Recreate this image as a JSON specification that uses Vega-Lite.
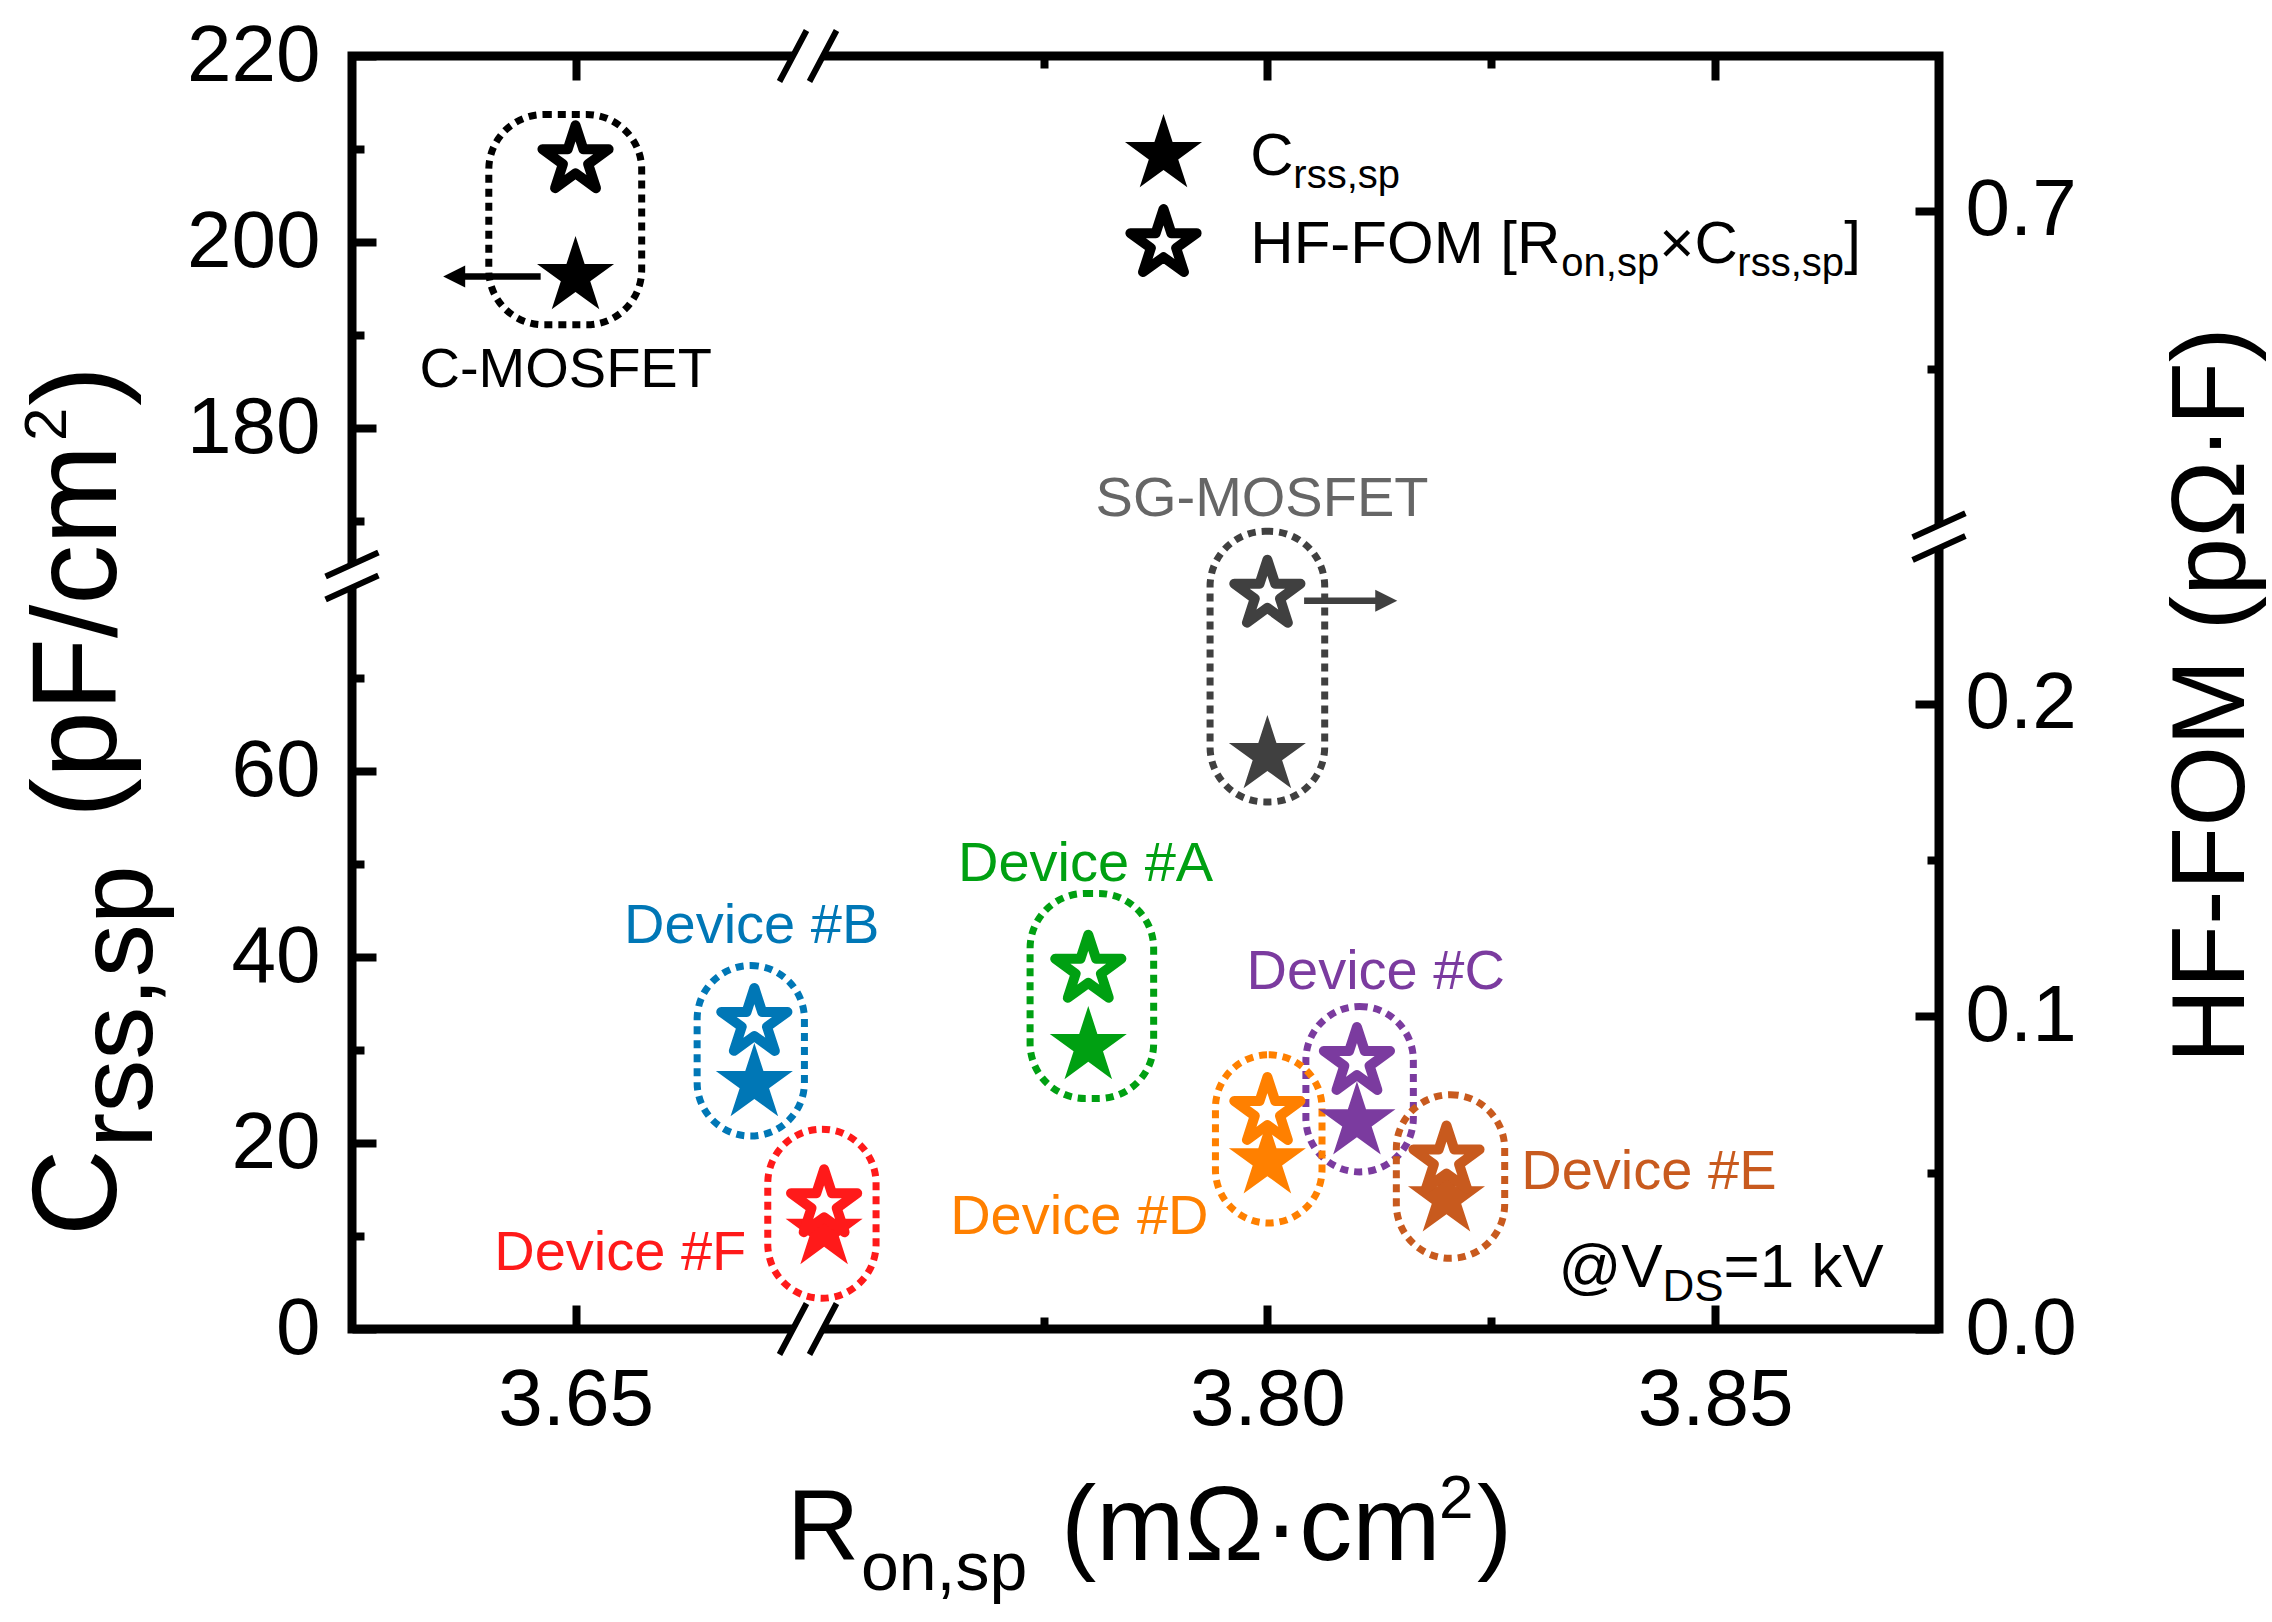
{
  "$schema": "https://vega.github.io/schema/vega-lite/v6.json",
  "width": 1587,
  "height": 1273,
  "autosize": {"type": "none"},
  "padding": {"left": 352, "top": 56, "right": 333, "bottom": 293},
  "background": "white",
  "view": {"stroke": "black", "strokeWidth": 9},
  "config": {
    "font": "Liberation Sans",
    "axis": {"domain": false, "grid": false, "labelFont": "Liberation Sans", "labelFontSize": 80, "labelColor": "black", "tickColor": "black", "tickWidth": 8, "labelFlush": false, "labelOverlap": false, "titleFont": "Liberation Sans", "titleColor": "black"},
    "text": {"font": "Liberation Sans"}
  },
  "data": {"values": [{}]},
  "datasets": {
    "pts": [
      {"dev": "C-MOSFET", "ron": 3.65, "crss": 196.3, "fom": 0.716},
      {"dev": "SG-MOSFET", "ron": 3.80, "crss": 61.7, "fom": 0.235},
      {"dev": "Device #A", "ron": 3.78, "crss": 30.4, "fom": 0.115},
      {"dev": "Device #B", "ron": 3.67, "crss": 26.4, "fom": 0.098},
      {"dev": "Device #C", "ron": 3.81, "crss": 22.3, "fom": 0.0855},
      {"dev": "Device #D", "ron": 3.80, "crss": 18.1, "fom": 0.0695},
      {"dev": "Device #E", "ron": 3.82, "crss": 14.0, "fom": 0.054},
      {"dev": "Device #F", "ron": 3.7505, "crss": 10.5, "fom": 0.040}
    ],
    "groups": [
      {"dev": "C-MOSFET", "x_lo": 3.6403, "x_hi": 3.6574, "c_lo": 191.1, "c_hi": 213.7},
      {"dev": "SG-MOSFET", "x_lo": 3.7936, "x_hi": 3.8064, "c_lo": 56.7, "c_hi": 168.9},
      {"dev": "Device #A", "x_lo": 3.7735, "x_hi": 3.7873, "c_lo": 24.8, "c_hi": 46.85},
      {"dev": "Device #B", "x_lo": 3.6636, "x_hi": 3.6756, "c_lo": 20.75, "c_hi": 39.1},
      {"dev": "Device #C", "x_lo": 3.8043, "x_hi": 3.8163, "c_lo": 16.9, "c_hi": 34.7},
      {"dev": "Device #D", "x_lo": 3.7942, "x_hi": 3.8061, "c_lo": 11.4, "c_hi": 29.5},
      {"dev": "Device #E", "x_lo": 3.8144, "x_hi": 3.8265, "c_lo": 7.6, "c_hi": 25.2},
      {"dev": "Device #F", "x_lo": 3.6715, "x_hi": 3.7563, "c_lo": 3.3, "c_hi": 21.5}
    ],
    "labels": [
      {"dev": "C-MOSFET", "lx": 3.6489, "ly": 184.4},
      {"dev": "SG-MOSFET", "lx": 3.7994, "ly": 170.6},
      {"dev": "Device #A", "lx": 3.7797, "ly": 48.2},
      {"dev": "Device #B", "lx": 3.6697, "ly": 41.5},
      {"dev": "Device #C", "lx": 3.8121, "ly": 36.6},
      {"dev": "Device #D", "lx": 3.7790, "ly": 10.2},
      {"dev": "Device #E", "lx": 3.8426, "ly": 15.1},
      {"dev": "Device #F", "lx": 3.655, "ly": 6.3}
    ]
  },
  "layer": [
    {
      "data": {"name": "groups"},
      "mark": {"type": "rect", "filled": false, "strokeWidth": 7, "strokeDash": [8, 6], "cornerRadius": 55},
      "encoding": {
        "x": {"field": "x_lo", "type": "quantitative",
          "scale": {"domain": [3.625, 3.676, 3.7487, 3.875], "range": [0, 456, 456, 1587], "nice": false, "zero": false},
          "axis": {"orient": "bottom", "title": null, "values": [3.65, 3.8, 3.85], "format": ".2f", "tickSize": -24, "labelPadding": 56}},
        "x2": {"field": "x_hi"},
        "y": {"field": "c_lo", "type": "quantitative",
          "scale": {"domain": [0, 81, 164.1, 220], "range": [1273, 520, 520, 0], "nice": false, "zero": false},
          "axis": {"orient": "left", "title": null, "values": [0, 20, 40, 60, 180, 200, 220], "format": "d", "tickSize": -24, "labelPadding": 56}},
        "y2": {"field": "c_hi"},
        "stroke": {"field": "dev", "type": "nominal", "legend": null,
          "scale": {"domain": ["C-MOSFET", "SG-MOSFET", "Device #A", "Device #B", "Device #C", "Device #D", "Device #E", "Device #F"],
                    "range": ["#000000", "#404040", "#00A012", "#0077B6", "#7B3B9F", "#FF8000", "#C85A1E", "#FF1A1A"]}}
      }
    },
    {
      "data": {"name": "pts"},
      "mark": {"type": "point", "shape": "M0,-1L0.2245,-0.309L0.9511,-0.309L0.3633,0.118L0.5878,0.809L0,0.382L-0.5878,0.809L-0.3633,0.118L-0.9511,-0.309L-0.2245,-0.309Z", "size": 6561, "filled": true, "opacity": 1, "strokeWidth": 0},
      "encoding": {
        "x": {"field": "ron", "type": "quantitative",
          "axis": {"orient": "bottom", "title": null, "values": [3.775, 3.825], "labels": false, "tickSize": -12}},
        "y": {"field": "crss", "type": "quantitative",
          "scale": {"domain": [0, 81, 164.1, 220], "range": [1273, 520, 520, 0], "nice": false, "zero": false},
          "axis": {"orient": "left", "title": null, "values": [10, 30, 50, 70, 170, 190, 210], "labels": false, "tickSize": -12}},
        "fill": {"field": "dev", "type": "nominal", "legend": null,
          "scale": {"domain": ["C-MOSFET", "SG-MOSFET", "Device #A", "Device #B", "Device #C", "Device #D", "Device #E", "Device #F"],
                    "range": ["#000000", "#404040", "#00A012", "#0077B6", "#7B3B9F", "#FF8000", "#C85A1E", "#FF1A1A"]}}
      }
    },
    {
      "data": {"name": "pts"},
      "mark": {"type": "point", "shape": "M0,-1L0.2245,-0.309L0.9511,-0.309L0.3633,0.118L0.5878,0.809L0,0.382L-0.5878,0.809L-0.3633,0.118L-0.9511,-0.309L-0.2245,-0.309Z", "size": 4844, "filled": true, "fill": "white", "strokeWidth": 10, "strokeJoin": "round", "opacity": 1},
      "encoding": {
        "x": {"field": "ron", "type": "quantitative", "axis": null},
        "y": {"field": "fom", "type": "quantitative",
          "scale": {"domain": [0, 0.2535, 0.5972, 0.7488], "range": [1273, 480.7, 480.7, 0], "nice": false, "zero": false},
          "axis": {"orient": "right", "values": [0, 0.1, 0.2, 0.7], "format": ".1f", "tickSize": -24, "labelPadding": 50,
            "title": "HF-FOM (pΩ·F)", "titleFontSize": 104, "titleFontWeight": "normal", "titleAngle": 270,
            "titleAlign": "center", "titleBaseline": "alphabetic", "titleX": 304, "titleY": 639}},
        "stroke": {"field": "dev", "type": "nominal", "legend": null}
      }
    },
    {
      "mark": {"type": "rule", "color": "#404040", "strokeWidth": 6.5},
      "encoding": {
        "x": {"datum": 3.8041, "type": "quantitative", "axis": null},
        "x2": {"datum": 3.8135},
        "y": {"datum": 0.233, "type": "quantitative",
          "scale": {"domain": [0, 0.2535, 0.5972, 0.7488], "range": [1273, 480.7, 480.7, 0], "nice": false, "zero": false},
          "axis": {"orient": "right", "title": null, "values": [0.05, 0.15, 0.65], "labels": false, "tickSize": -12}}
      }
    },
    {
      "mark": {"type": "point", "shape": "M0,0L-2,-1L-2,1Z", "size": 484, "filled": true, "color": "#404040", "opacity": 1, "strokeWidth": 0},
      "encoding": {
        "x": {"datum": 3.8145, "type": "quantitative", "axis": null},
        "y": {"datum": 0.233, "type": "quantitative", "axis": null,
          "scale": {"domain": [0, 0.2535, 0.5972, 0.7488], "range": [1273, 480.7, 480.7, 0], "nice": false, "zero": false}}
      }
    },
    {
      "mark": {"type": "rule", "color": "black", "strokeWidth": 6.5},
      "encoding": {
        "x": {"datum": 3.6461, "type": "quantitative", "axis": null},
        "x2": {"datum": 3.6362},
        "y": {"datum": 196.3, "type": "quantitative", "axis": null,
          "scale": {"domain": [0, 81, 164.1, 220], "range": [1273, 520, 520, 0], "nice": false, "zero": false}}
      }
    },
    {
      "mark": {"type": "point", "shape": "M0,0L2,-1L2,1Z", "size": 484, "filled": true, "color": "black", "opacity": 1, "strokeWidth": 0},
      "encoding": {
        "x": {"datum": 3.6352, "type": "quantitative", "axis": null},
        "y": {"datum": 196.3, "type": "quantitative", "axis": null,
          "scale": {"domain": [0, 81, 164.1, 220], "range": [1273, 520, 520, 0], "nice": false, "zero": false}}
      }
    },
    {
      "data": {"name": "labels"},
      "mark": {"type": "text", "fontSize": 56, "align": "center", "baseline": "alphabetic"},
      "encoding": {
        "x": {"field": "lx", "type": "quantitative", "axis": null},
        "y": {"field": "ly", "type": "quantitative", "axis": null,
          "scale": {"domain": [0, 81, 164.1, 220], "range": [1273, 520, 520, 0], "nice": false, "zero": false}},
        "text": {"field": "dev"},
        "color": {"field": "dev", "type": "nominal", "legend": null,
          "scale": {"domain": ["C-MOSFET", "SG-MOSFET", "Device #A", "Device #B", "Device #C", "Device #D", "Device #E", "Device #F"],
                    "range": ["#000000", "#666666", "#00A012", "#0077B6", "#7B3B9F", "#FF8000", "#C85A1E", "#FF1A1A"]}}
      }
    },
    {
      "mark": {"type": "point", "shape": "M0,-1L0.2245,-0.309L0.9511,-0.309L0.3633,0.118L0.5878,0.809L0,0.382L-0.5878,0.809L-0.3633,0.118L-0.9511,-0.309L-0.2245,-0.309Z", "size": 6561, "filled": true, "color": "black", "opacity": 1, "strokeWidth": 0},
      "encoding": {
        "x": {"datum": 3.7884, "type": "quantitative", "axis": null},
        "y": {"datum": 209.4, "type": "quantitative", "axis": null, "scale": {"domain": [0, 81, 164.1, 220], "range": [1273, 520, 520, 0], "nice": false, "zero": false}}
      }
    },
    {
      "mark": {"type": "point", "shape": "M0,-1L0.2245,-0.309L0.9511,-0.309L0.3633,0.118L0.5878,0.809L0,0.382L-0.5878,0.809L-0.3633,0.118L-0.9511,-0.309L-0.2245,-0.309Z", "size": 4844, "filled": true, "fill": "white", "stroke": "black", "strokeWidth": 10, "strokeJoin": "round", "opacity": 1},
      "encoding": {
        "x": {"datum": 3.7884, "type": "quantitative", "axis": null},
        "y": {"datum": 199.8, "type": "quantitative", "axis": null, "scale": {"domain": [0, 81, 164.1, 220], "range": [1273, 520, 520, 0], "nice": false, "zero": false}}
      }
    },
    {"mark": {"type": "text", "text": "C", "fontSize": 60, "align": "left", "baseline": "alphabetic", "color": "black"},
     "encoding": {"x": {"datum": 3.7981, "type": "quantitative", "axis": null}, "y": {"datum": 207.2, "type": "quantitative", "axis": null, "scale": {"domain": [0, 81, 164.1, 220], "range": [1273, 520, 520, 0], "nice": false, "zero": false}}}},
    {"mark": {"type": "text", "text": "rss,sp", "fontSize": 40, "align": "left", "baseline": "alphabetic", "color": "black", "dx": 43, "dy": 13},
     "encoding": {"x": {"datum": 3.7981, "type": "quantitative", "axis": null}, "y": {"datum": 207.2, "type": "quantitative", "axis": null, "scale": {"domain": [0, 81, 164.1, 220], "range": [1273, 520, 520, 0], "nice": false, "zero": false}}}},
    {"mark": {"type": "text", "text": "HF-FOM [R", "fontSize": 60, "align": "left", "baseline": "alphabetic", "color": "black"},
     "encoding": {"x": {"datum": 3.7981, "type": "quantitative", "axis": null}, "y": {"datum": 197.7, "type": "quantitative", "axis": null, "scale": {"domain": [0, 81, 164.1, 220], "range": [1273, 520, 520, 0], "nice": false, "zero": false}}}},
    {"mark": {"type": "text", "text": "on,sp", "fontSize": 40, "align": "left", "baseline": "alphabetic", "color": "black", "dx": 311, "dy": 13},
     "encoding": {"x": {"datum": 3.7981, "type": "quantitative", "axis": null}, "y": {"datum": 197.7, "type": "quantitative", "axis": null, "scale": {"domain": [0, 81, 164.1, 220], "range": [1273, 520, 520, 0], "nice": false, "zero": false}}}},
    {"mark": {"type": "text", "text": "×C", "fontSize": 60, "align": "left", "baseline": "alphabetic", "color": "black", "dx": 409},
     "encoding": {"x": {"datum": 3.7981, "type": "quantitative", "axis": null}, "y": {"datum": 197.7, "type": "quantitative", "axis": null, "scale": {"domain": [0, 81, 164.1, 220], "range": [1273, 520, 520, 0], "nice": false, "zero": false}}}},
    {"mark": {"type": "text", "text": "rss,sp", "fontSize": 40, "align": "left", "baseline": "alphabetic", "color": "black", "dx": 487, "dy": 13},
     "encoding": {"x": {"datum": 3.7981, "type": "quantitative", "axis": null}, "y": {"datum": 197.7, "type": "quantitative", "axis": null, "scale": {"domain": [0, 81, 164.1, 220], "range": [1273, 520, 520, 0], "nice": false, "zero": false}}}},
    {"mark": {"type": "text", "text": "]", "fontSize": 60, "align": "left", "baseline": "alphabetic", "color": "black", "dx": 594},
     "encoding": {"x": {"datum": 3.7981, "type": "quantitative", "axis": null}, "y": {"datum": 197.7, "type": "quantitative", "axis": null, "scale": {"domain": [0, 81, 164.1, 220], "range": [1273, 520, 520, 0], "nice": false, "zero": false}}}},
    {"mark": {"type": "text", "text": "@V", "fontSize": 62, "align": "left", "baseline": "alphabetic", "color": "black"},
     "encoding": {"x": {"datum": 3.8325, "type": "quantitative", "axis": null}, "y": {"datum": 4.5, "type": "quantitative", "axis": null, "scale": {"domain": [0, 81, 164.1, 220], "range": [1273, 520, 520, 0], "nice": false, "zero": false}}}},
    {"mark": {"type": "text", "text": "DS", "fontSize": 44, "align": "left", "baseline": "alphabetic", "color": "black", "dx": 104, "dy": 14},
     "encoding": {"x": {"datum": 3.8325, "type": "quantitative", "axis": null}, "y": {"datum": 4.5, "type": "quantitative", "axis": null, "scale": {"domain": [0, 81, 164.1, 220], "range": [1273, 520, 520, 0], "nice": false, "zero": false}}}},
    {"mark": {"type": "text", "text": "=1 kV", "fontSize": 62, "align": "left", "baseline": "alphabetic", "color": "black", "dx": 165},
     "encoding": {"x": {"datum": 3.8325, "type": "quantitative", "axis": null}, "y": {"datum": 4.5, "type": "quantitative", "axis": null, "scale": {"domain": [0, 81, 164.1, 220], "range": [1273, 520, 520, 0], "nice": false, "zero": false}}}},
    {"mark": {"type": "text", "text": "R", "fontSize": 100, "align": "left", "baseline": "alphabetic", "color": "black"},
     "encoding": {"x": {"datum": 3.67365, "type": "quantitative", "axis": null}, "y": {"datum": -24.84, "type": "quantitative", "axis": null, "scale": {"domain": [0, 81, 164.1, 220], "range": [1273, 520, 520, 0], "nice": false, "zero": false}}}},
    {"mark": {"type": "text", "text": "on,sp", "fontSize": 68, "align": "left", "baseline": "alphabetic", "color": "black", "dx": 74, "dy": 30},
     "encoding": {"x": {"datum": 3.67365, "type": "quantitative", "axis": null}, "y": {"datum": -24.84, "type": "quantitative", "axis": null, "scale": {"domain": [0, 81, 164.1, 220], "range": [1273, 520, 520, 0], "nice": false, "zero": false}}}},
    {"mark": {"type": "text", "text": "(mΩ·cm", "fontSize": 106, "align": "left", "baseline": "alphabetic", "color": "black", "dx": 274},
     "encoding": {"x": {"datum": 3.67365, "type": "quantitative", "axis": null}, "y": {"datum": -24.84, "type": "quantitative", "axis": null, "scale": {"domain": [0, 81, 164.1, 220], "range": [1273, 520, 520, 0], "nice": false, "zero": false}}}},
    {"mark": {"type": "text", "text": "2", "fontSize": 62, "align": "left", "baseline": "alphabetic", "color": "black", "dx": 652, "dy": -42},
     "encoding": {"x": {"datum": 3.67365, "type": "quantitative", "axis": null}, "y": {"datum": -24.84, "type": "quantitative", "axis": null, "scale": {"domain": [0, 81, 164.1, 220], "range": [1273, 520, 520, 0], "nice": false, "zero": false}}}},
    {"mark": {"type": "text", "text": ")", "fontSize": 106, "align": "left", "baseline": "alphabetic", "color": "black", "dx": 690},
     "encoding": {"x": {"datum": 3.67365, "type": "quantitative", "axis": null}, "y": {"datum": -24.84, "type": "quantitative", "axis": null, "scale": {"domain": [0, 81, 164.1, 220], "range": [1273, 520, 520, 0], "nice": false, "zero": false}}}},
    {"mark": {"type": "text", "text": "C", "fontSize": 120, "align": "left", "baseline": "alphabetic", "color": "black", "angle": 270},
     "encoding": {"x": {"datum": 3.5986, "type": "quantitative", "axis": null}, "y": {"datum": 10.0, "type": "quantitative", "axis": null, "scale": {"domain": [0, 81, 164.1, 220], "range": [1273, 520, 520, 0], "nice": false, "zero": false}}}},
    {"mark": {"type": "text", "text": "rss,sp", "fontSize": 106, "align": "left", "baseline": "alphabetic", "color": "black", "angle": 270, "dx": 88, "dy": 36},
     "encoding": {"x": {"datum": 3.5986, "type": "quantitative", "axis": null}, "y": {"datum": 10.0, "type": "quantitative", "axis": null, "scale": {"domain": [0, 81, 164.1, 220], "range": [1273, 520, 520, 0], "nice": false, "zero": false}}}},
    {"mark": {"type": "text", "text": "(pF/cm", "fontSize": 120, "align": "left", "baseline": "alphabetic", "color": "black", "angle": 270, "dx": 418},
     "encoding": {"x": {"datum": 3.5986, "type": "quantitative", "axis": null}, "y": {"datum": 10.0, "type": "quantitative", "axis": null, "scale": {"domain": [0, 81, 164.1, 220], "range": [1273, 520, 520, 0], "nice": false, "zero": false}}}},
    {"mark": {"type": "text", "text": "2", "fontSize": 60, "align": "left", "baseline": "alphabetic", "color": "black", "angle": 270, "dx": 795, "dy": -50},
     "encoding": {"x": {"datum": 3.5986, "type": "quantitative", "axis": null}, "y": {"datum": 10.0, "type": "quantitative", "axis": null, "scale": {"domain": [0, 81, 164.1, 220], "range": [1273, 520, 520, 0], "nice": false, "zero": false}}}},
    {"mark": {"type": "text", "text": ")", "fontSize": 120, "align": "left", "baseline": "alphabetic", "color": "black", "angle": 270, "dx": 830},
     "encoding": {"x": {"datum": 3.5986, "type": "quantitative", "axis": null}, "y": {"datum": 10.0, "type": "quantitative", "axis": null, "scale": {"domain": [0, 81, 164.1, 220], "range": [1273, 520, 520, 0], "nice": false, "zero": false}}}},
    {"mark": {"type": "point", "shape": "M-0.95,0.85L-0.05,-0.85L0.95,-0.85L0.05,0.85Z", "size": 3600, "filled": true, "color": "white", "opacity": 1, "strokeWidth": 0},
     "encoding": {"x": {"datum": 3.7, "type": "quantitative", "axis": null}, "y": {"datum": 0, "type": "quantitative", "axis": null, "scale": {"domain": [0, 81, 164.1, 220], "range": [1273, 520, 520, 0], "nice": false, "zero": false}}}},
    {"mark": {"type": "point", "shape": "M-0.95,0.85L-0.05,-0.85M0.05,0.85L0.95,-0.85", "size": 3600, "filled": false, "color": "black", "opacity": 1, "strokeWidth": 6},
     "encoding": {"x": {"datum": 3.7, "type": "quantitative", "axis": null}, "y": {"datum": 0, "type": "quantitative", "axis": null, "scale": {"domain": [0, 81, 164.1, 220], "range": [1273, 520, 520, 0], "nice": false, "zero": false}}}},
    {"mark": {"type": "point", "shape": "M-0.95,0.85L-0.05,-0.85L0.95,-0.85L0.05,0.85Z", "size": 3600, "filled": true, "color": "white", "opacity": 1, "strokeWidth": 0},
     "encoding": {
       "x": {"datum": 3.7, "type": "quantitative",
         "axis": {"orient": "top", "title": null, "labels": false, "values": [3.775, 3.825], "tickSize": -12}},
       "y": {"datum": 220, "type": "quantitative", "axis": null, "scale": {"domain": [0, 81, 164.1, 220], "range": [1273, 520, 520, 0], "nice": false, "zero": false}}}},
    {"mark": {"type": "point", "shape": "M-0.95,0.85L-0.05,-0.85M0.05,0.85L0.95,-0.85", "size": 3600, "filled": false, "color": "black", "opacity": 1, "strokeWidth": 6},
     "encoding": {
       "x": {"datum": 3.7, "type": "quantitative",
         "axis": {"orient": "top", "title": null, "labels": false, "values": [3.65, 3.8, 3.85], "tickSize": -24}},
       "y": {"datum": 220, "type": "quantitative", "axis": null, "scale": {"domain": [0, 81, 164.1, 220], "range": [1273, 520, 520, 0], "nice": false, "zero": false}}}},
    {"mark": {"type": "point", "shape": "M-0.88,0.02L0.88,-0.78L0.88,-0.02L-0.88,0.78Z", "size": 3600, "filled": true, "color": "white", "opacity": 1, "strokeWidth": 0},
     "encoding": {"x": {"datum": 3.625, "type": "quantitative", "axis": null}, "y": {"datum": 120, "type": "quantitative", "axis": null, "scale": {"domain": [0, 81, 164.1, 220], "range": [1273, 520, 520, 0], "nice": false, "zero": false}}}},
    {"mark": {"type": "point", "shape": "M-0.88,0.02L0.88,-0.78M-0.88,0.78L0.88,-0.02", "size": 3600, "filled": false, "color": "black", "opacity": 1, "strokeWidth": 6},
     "encoding": {"x": {"datum": 3.625, "type": "quantitative", "axis": null}, "y": {"datum": 120, "type": "quantitative", "axis": null, "scale": {"domain": [0, 81, 164.1, 220], "range": [1273, 520, 520, 0], "nice": false, "zero": false}}}},
    {"mark": {"type": "point", "shape": "M-0.88,0.02L0.88,-0.78L0.88,-0.02L-0.88,0.78Z", "size": 3600, "filled": true, "color": "white", "opacity": 1, "strokeWidth": 0},
     "encoding": {"x": {"datum": 3.875, "type": "quantitative", "axis": null}, "y": {"datum": 0.4, "type": "quantitative", "axis": null, "scale": {"domain": [0, 0.2535, 0.5972, 0.7488], "range": [1273, 480.7, 480.7, 0], "nice": false, "zero": false}}}},
    {"mark": {"type": "point", "shape": "M-0.88,0.02L0.88,-0.78M-0.88,0.78L0.88,-0.02", "size": 3600, "filled": false, "color": "black", "opacity": 1, "strokeWidth": 6},
     "encoding": {"x": {"datum": 3.875, "type": "quantitative", "axis": null}, "y": {"datum": 0.4, "type": "quantitative", "axis": null, "scale": {"domain": [0, 0.2535, 0.5972, 0.7488], "range": [1273, 480.7, 480.7, 0], "nice": false, "zero": false}}}}
  ],
  "resolve": {"scale": {"y": "independent"}, "axis": {"x": "independent", "y": "independent"}}
}
